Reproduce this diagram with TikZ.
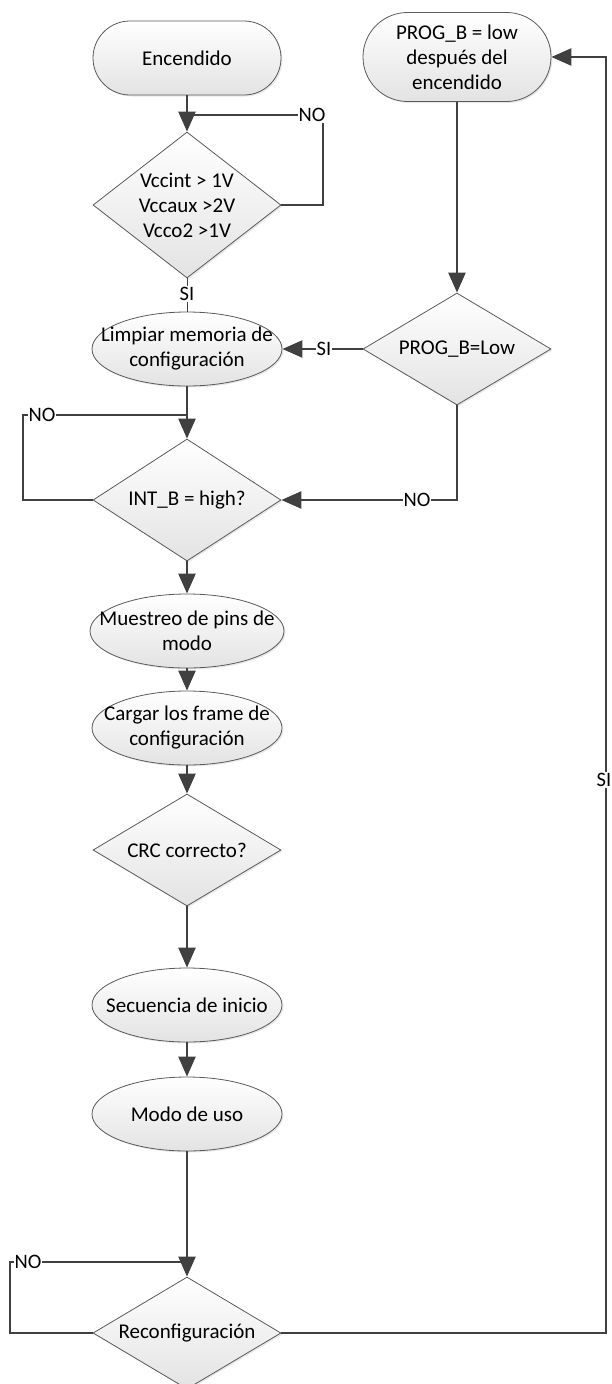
\documentclass[tikz,border=0pt]{standalone}
\usepackage{fontspec}
\setmainfont{Carlito}
\usetikzlibrary{shapes.geometric,shapes.misc,arrows.meta,shadows}

\definecolor{linegray}{HTML}{404040}
\definecolor{edgegray}{HTML}{5A5A5A}

\begin{document}
\begin{tikzpicture}[x=1pt,y=-1pt,
  shapebase/.style={draw=edgegray, line width=0.8pt, top color=white, bottom color=black!11,
    inner sep=0pt, drop shadow={shadow xshift=1.5pt, shadow yshift=-1.5pt, opacity=0.18}},
  term/.style={shapebase, rounded rectangle, minimum width=188pt, minimum height=74pt},
  proc/.style={shapebase, ellipse, minimum width=190pt, minimum height=74pt},
  dec/.style={shapebase, diamond, minimum width=188pt, minimum height=#1},
  txt/.style={font=\fontsize{21}{25}\selectfont, align=center, inner sep=0pt},
  conn/.style={draw=linegray, line width=2.4pt},
  arr/.style={conn, -{Triangle[length=20pt,width=17pt]}},
  tag/.style={font=\fontsize{20.5}{24}\selectfont, fill=white, inner sep=1pt},
]
\useasboundingbox (0,0) rectangle (612,1384);

% shapes
\node[term] (enc) at (187,58) {};
\node[txt] at (enc) {Encendido};
\node[dec=146pt] (d1) at (187,205) {};
\node[txt] at (d1) {Vccint > 1V\\Vccaux >2V\\Vcco2 >1V};
\node[proc] (lim) at (187,349) {};
\node[txt] at (lim) {Limpiar memoria de\\configuración};
\node[term, minimum height=89pt] (prog) at (457,57) {};
\node[txt] at (prog) {PROG\_B = low\\después del\\encendido};
\node[dec=112pt] (d3) at (457,349) {};
\node[txt] at (d3) {PROG\_B=Low};
\node[dec=122pt] (d2) at (187,500) {};
\node[txt] at (d2) {INT\_B = high?};
\node[proc, minimum width=194pt] (mue) at (187,631) {};
\node[txt] at (mue) {Muestreo de pins de\\modo};
\node[proc] (car) at (187,728) {};
\node[txt] at (car) {Cargar los frame de\\configuración};
\node[dec=112pt] (crc) at (187,850) {};
\node[txt] at (crc) {CRC correcto?};
\node[proc] (sec) at (187,1005) {};
\node[txt] at (sec) {Secuencia de inicio};
\node[proc] (modo) at (187,1114) {};
\node[txt] at (modo) {Modo de uso};
\node[dec=112pt] (rec) at (187,1333) {};
\node[txt] at (rec) {Reconfiguración};

% power-on check
\draw[arr] (enc) -- (d1);
\coordinate (n1) at (323,115);
\draw[conn] (d1.east) -| (n1) -- (n1 -| enc.south);
\node[tag] at (312,115) {NO};
\draw[draw=linegray, line width=1pt] (d1.south) -- (lim.north);
\node[tag] at (187,294) {SI};

% INT_B wait loop
\draw[arr] (lim) -- (d2);
\coordinate (n2) at (23,415);
\draw[conn] (d2.west) -| (n2) -- (n2 -| d2.north);
\node[tag] at (42,415) {NO};

% PROG_B branch
\draw[arr] (prog) -- (d3);
\draw[arr] (d3.west) -- (lim.east);
\node[tag] at (324,349) {SI};
\draw[arr] (d3.south) |- (d2.east);
\node[tag] at (417,500) {NO};

% main sequence
\draw[arr] (d2) -- (mue);
\draw[arr] (mue) -- (car);
\draw[arr] (car) -- (crc);
\draw[arr] (crc) -- (sec);
\draw[arr] (sec) -- (modo);
\draw[arr] (modo) -- (rec);

% reconfiguration
\coordinate (n3) at (10,1262);
\draw[conn] (rec.west) -| (n3) -- (n3 -| rec.north);
\node[tag] at (28,1262) {NO};
\coordinate (n4) at (606,1333);
\draw[arr] (rec.east) -- (n4) |- (prog.east);
\node[tag] at (604,780) {SI};
\end{tikzpicture}
\end{document}
